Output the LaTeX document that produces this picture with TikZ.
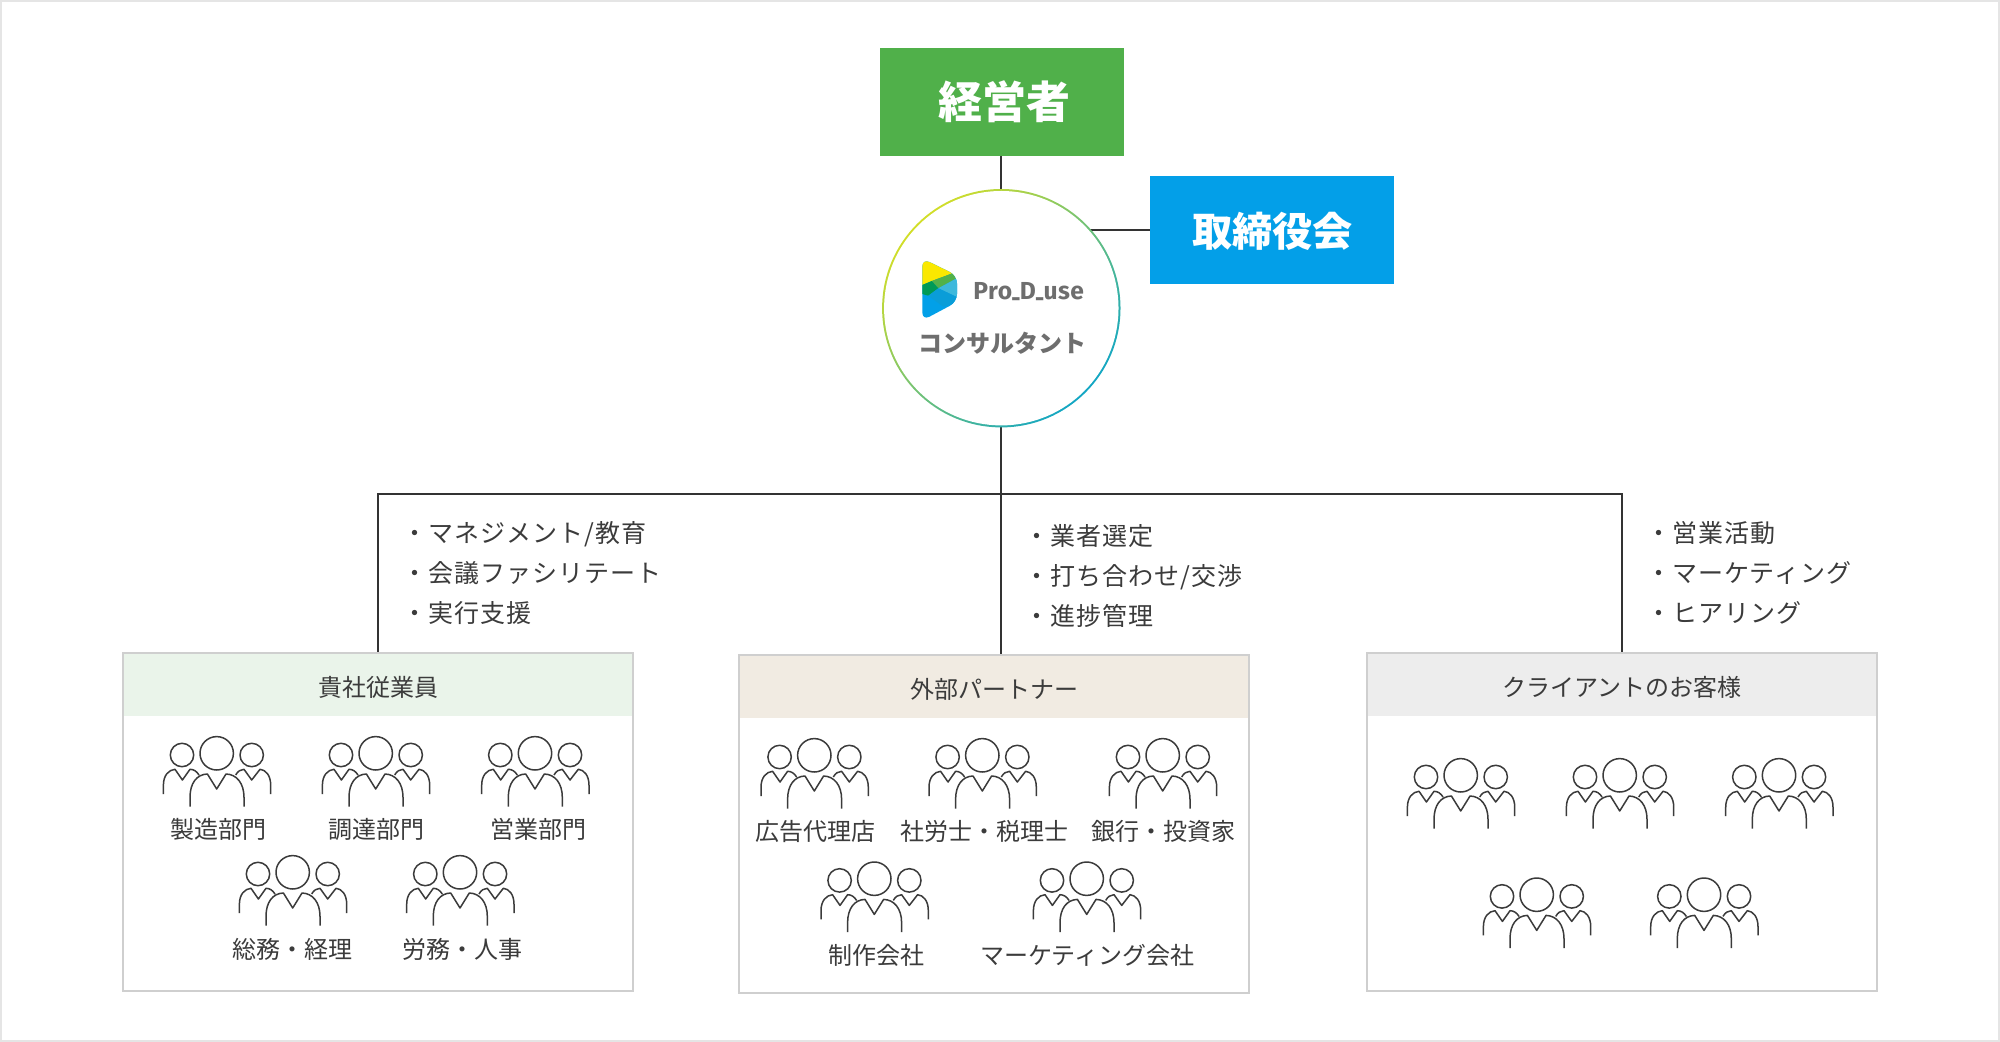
\documentclass[tikz,border=0pt]{standalone}
\usepackage{fontspec}
\setmainfont{Noto Sans CJK JP}
\newfontfamily\logofont{Fira Sans}
\usetikzlibrary{backgrounds,calc}
\definecolor{txt}{HTML}{3B3B3B}
\definecolor{grayt}{HTML}{6E6E6E}
\definecolor{wire}{HTML}{333333}
\definecolor{edge}{HTML}{CFCFCF}
\definecolor{greenbox}{HTML}{50B04A}
\definecolor{bluebox}{HTML}{039FE8}
\definecolor{headg}{HTML}{EAF4EA}
\definecolor{headb}{HTML}{F1EBE2}
\definecolor{heads}{HTML}{EDEDED}
\definecolor{ringa}{HTML}{D2DE28}
\definecolor{ringb}{HTML}{12A6C4}
\definecolor{lgy}{HTML}{FAE800}
\definecolor{lgg}{HTML}{52B14A}
\definecolor{lgd}{HTML}{009A56}
\definecolor{lgl}{HTML}{3DB8DC}
\definecolor{lgm}{HTML}{0A9DD8}
\definecolor{lgb}{HTML}{02A0E8}
\tikzset{
  x=0.5pt,y=-0.5pt,
  wireline/.style={draw=wire,line width=1pt},
  topbox/.style={fill=#1,inner sep=0pt,outer sep=0pt,minimum width=122pt,minimum height=54pt,text=white},
  panel/.style={draw=edge,fill=white,line width=1pt,inner sep=0pt,outer sep=0pt,minimum width=255pt,minimum height=#1},
  panelhead/.style={fill=#1,inner sep=0pt,outer sep=0pt,minimum width=254pt,minimum height=31pt},
  lab/.style={text=txt,inner sep=0pt,font=\fontsize{12}{14}\selectfont},
  bullets/.style={text=txt,inner sep=0pt,anchor=west,align=left,font=\fontsize{12.5}{20}\selectfont\addfontfeature{LetterSpace=4}},
  team/.pic={
    \draw[draw=txt,line width=0.75pt,line cap=butt,line join=round]
      (-34.7,1.7) circle[radius=11.7]
      (0,0) circle[radius=16.7]
      (35,1.7) circle[radius=11.7]
      (-53.3,40.7) -- (-53.3,32) .. controls (-53.3,22) and (-48,16.5) .. (-41.7,16)
        -- (-34.3,26.7) -- (-26.7,16) .. controls (-23,16) and (-20,18) .. (-17.7,21.7)
      (-26.7,53.3) -- (-26.7,44) .. controls (-26.7,30) and (-20,21) .. (-9.3,20.7)
        -- (0,35.7) -- (9.3,20.7) .. controls (20,21) and (27.3,30) .. (27.3,44) -- (27.3,53.3)
      (54,40.7) -- (54,32) .. controls (54,22) and (49,16.5) .. (43.3,16)
        -- (35,26.7) -- (27.3,16) .. controls (24,16) and (21,18) .. (19,21.7);
  }
}
\begin{document}
\begin{tikzpicture}
\useasboundingbox (0,0) rectangle (2000,1042);
% top nodes
\node[topbox=greenbox] (owner) at (1002,102) {};
\node[text=white,inner sep=0pt,font=\fontsize{22}{24}\selectfont\bfseries] (ownert) at (1004,102) {経営者};
\node[topbox=bluebox] (board) at (1272.3,230) {};
\node[text=white,inner sep=0pt,font=\fontsize{20.1}{24}\selectfont\bfseries] (boardt) at (1272.7,231.3) {取締役会};
\node[circle,fill=white,inner sep=0pt,outer sep=0pt,minimum size=117.2pt] (consult) at (1001.3,308.2) {};
% panels
\node[panel=168.75pt] (emp) at (378,822) {};
\node[panelhead=headg,anchor=north] (emph) at ($(emp.north)+(0,1)$) {};
\node[lab] (empt) at ($(emph.center)+(0,2.3)$) {貴社従業員};
\node[panel=168.75pt] (par) at (994,824) {};
\node[panelhead=headb,anchor=north] (parh) at ($(par.north)+(0,1)$) {};
\node[lab] (part) at ($(parh.center)+(0,2.3)$) {外部パートナー};
\node[panel=168.75pt] (cli) at (1622,822) {};
\node[panelhead=heads,anchor=north] (clih) at ($(cli.north)+(0,1)$) {};
\node[lab] (clit) at ($(clih.center)+(0,2.3)$) {クライアントのお客様};
\coordinate (bus) at (1001.5,493.5);
\begin{scope}[on background layer]
  \draw[color=white!90!black,line width=1pt] (1,1) rectangle (1999,1041);
  \draw[wireline] (owner.south) -- (owner.south -| consult.center) -- (consult.north);
  \draw[wireline] (board.west) -- (board.west -| consult.center);
  \draw[wireline] (consult.south) -- (consult.south |- par.north);
  \draw[wireline] (emp.north) |- (bus) -| (cli.north);
  \shade[top color=ringa,bottom color=ringb,shading angle=45] (consult.center) circle[radius=119.2];
\end{scope}
% logo
\begin{scope}
  \clip[rounded corners=4pt] (922.3,258.5) -- (957,275.5) -- (957,302) -- (922.3,320.5) -- cycle;
  \fill[color=lgb] (915,255) rectangle (960,325);
  \fill[color=lgy] (915,255) -- (962,255) -- (955,272.3) -- (931.7,281) -- (922.3,285) -- (915,290) -- cycle;
  \fill[color=lgg] (931.7,281) -- (955,272.3) -- (960,270) -- (960,276.5) -- (938.3,288.3) -- cycle;
  \fill[color=lgd] (915,288) -- (922.3,285) -- (931.7,281) -- (938.3,288.3) -- (928.3,295.7) -- (915,292) -- cycle;
  \fill[color=lgl] (938.3,288.3) -- (960,276.5) -- (960,298.5) -- cycle;
  \fill[color=lgm] (928.3,295.7) -- (938.3,288.3) -- (960,298.5) -- (960,302) -- (943.3,306.7) -- cycle;
\end{scope}
\node[inner sep=0pt,text=grayt,anchor=base west,font=\logofont\fontsize{12.3}{14}\selectfont\bfseries\addfontfeature{LetterSpace=2}] (logotext) at (973,299.5) {Pro\raisebox{1.5pt}{\scalebox{0.6}[1]{\_}}D\raisebox{1.5pt}{\scalebox{0.6}[1]{\_}}use};
\node[inner sep=0pt,text=grayt,font=\fontsize{12}{14}\selectfont\bfseries] (role) at (1002.8,343.5) {コンサルタント};
% bullets
\node[bullets] (bl) at (402,573) {・マネジメント/教育\\・会議ファシリテート\\・実行支援};
\node[bullets] (bm) at (1024,576.5) {・業者選定\\・打ち合わせ/交渉\\・進捗管理};
\node[bullets] (br) at (1646,572.5) {・営業活動\\・マーケティング\\・ヒアリング};
% left panel
\pic at (216.7,753.3) {team};
\pic at (375.7,753.3) {team};
\pic at (535,753.3) {team};
\pic at (292.7,872.3) {team};
\pic at (460,872.3) {team};
\node[lab] (a1) at (218.8,829.3) {製造部門};
\node[lab] (a2) at (376,829.3) {調達部門};
\node[lab] (a3) at (538,829.3) {営業部門};
\node[lab] (a4) at (292.8,949.3) {総務・経理};
\node[lab] (a5) at (462,949.3) {労務・人事};
% centre panel
\pic at (814.3,755.3) {team};
\pic at (982.3,755.3) {team};
\pic at (1162.7,755.3) {team};
\pic at (874.3,878.7) {team};
\pic at (1086.7,878.7) {team};
\node[lab] (b1) at (815.8,831.7) {広告代理店};
\node[lab] (b2) at (984.7,831.7) {社労士・税理士};
\node[lab] (b3) at (1163.8,831.7) {銀行・投資家};
\node[lab] (b4) at (876,955) {制作会社};
\node[lab] (b5) at (1087.5,955) {マーケティング会社};
% right panel
\pic at (1460.7,775.3) {team};
\pic at (1619.7,775.3) {team};
\pic at (1779,775.3) {team};
\pic at (1536.7,894.7) {team};
\pic at (1704,894.7) {team};
\end{tikzpicture}
\end{document}
